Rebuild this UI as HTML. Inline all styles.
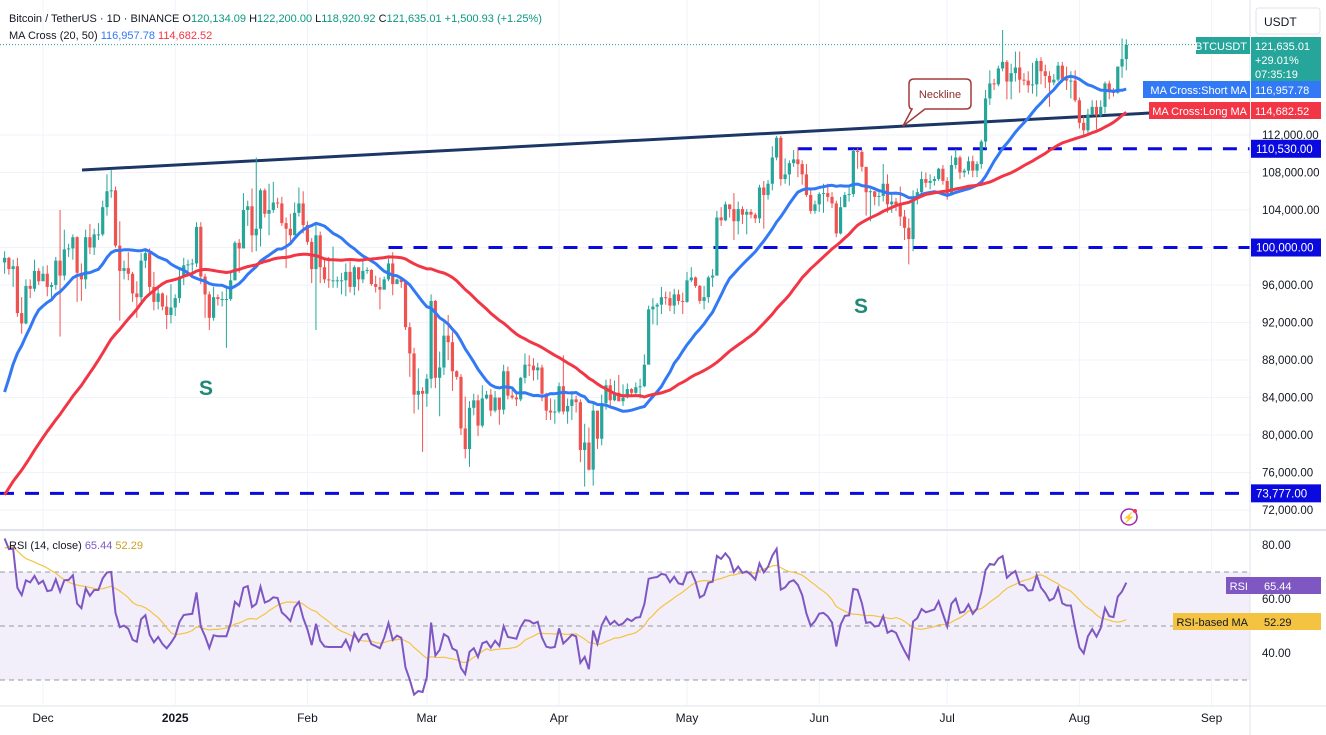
<!DOCTYPE html>
<html><head><meta charset="utf-8"><style>
html,body{margin:0;padding:0;background:#fff;width:1326px;height:735px;overflow:hidden}
svg{display:block;font-family:"Liberation Sans",sans-serif}
</style></head><body>
<svg id="chart" width="1326" height="735" viewBox="0 0 1326 735">
<g id="grid"></g>
<g id="rsiBg"></g>
<g id="levels"></g>
<g id="candles"></g>
<g id="mas"></g>
<g id="rsiG"></g>
<g id="anno"></g>
<g id="axes"></g>
</svg>
<script>
// ---- data (thousands USDT) ----
const histCloses=[60.8,62.1,62.1,62.8,62.2,62.1,60.6,60.3,62.4,63.2,62.9,66.0,67.0,67.6,67.4,68.4,68.4,69.0,67.4,67.4,66.7,68.2,66.6,67.0,68.0,69.9,72.7,72.3,70.2,69.5,69.3,68.7,67.8,69.4,75.6,75.9,76.5,76.7,80.4,88.7,88.0,90.5,87.4,91.1,90.6,89.9,90.5,92.3,94.3,98.4];
const closes=[98.9,97.7,98.0,93.0,91.9,95.9,95.6,97.5,96.4,
97.2,95.8,96.0,98.6,97.0,99.8,99.9,101.1,97.3,96.6,101.1,100.0,101.4,101.4,104.3,106.0,106.1,100.2,97.5,97.8,97.2,95.1,94.7,98.6,99.4,95.8,94.2,95.1,93.7,92.8,93.6,
94.6,96.9,98.1,98.2,98.3,102.2,96.9,95.0,92.5,94.7,94.5,94.5,94.5,96.5,100.5,99.9,104.0,104.4,101.3,102.0,106.1,103.6,104.0,104.8,104.7,102.6,102.0,101.3,103.7,104.7,102.4,
100.6,97.7,101.3,97.9,96.6,96.5,96.5,96.5,96.5,97.4,95.8,97.9,96.6,97.5,97.6,96.1,95.8,95.5,96.6,98.3,96.1,96.6,96.3,91.5,88.7,84.3,84.7,84.4,
86.0,94.3,86.1,87.2,90.6,89.9,86.8,86.2,80.7,78.5,82.9,83.7,81.0,83.9,84.3,82.6,84.0,82.7,86.8,84.2,84.0,83.8,86.1,87.5,87.4,86.9,87.2,84.4,82.6,82.4,82.5,
85.2,82.5,83.1,83.8,83.5,78.4,79.2,76.3,82.6,79.6,83.4,85.3,83.7,84.5,83.6,84.0,84.9,84.5,85.1,85.2,87.5,93.4,93.7,93.9,94.7,94.6,93.8,95.0,94.3,94.2,
96.5,96.8,95.9,94.3,94.7,96.8,97.0,103.2,102.9,104.6,104.1,102.8,104.1,103.5,103.8,103.5,103.1,106.4,105.6,106.8,109.6,111.7,107.3,107.8,109.0,109.4,108.9,107.8,105.6,103.9,104.6,
105.7,105.8,105.4,104.7,101.5,104.3,105.6,105.7,110.3,110.2,108.6,105.9,106.0,105.4,105.5,106.8,104.6,104.9,104.6,103.3,102.1,100.9,105.4,105.9,107.3,106.9,107.1,107.3,108.4,107.1,
105.7,108.8,109.6,108.0,108.2,109.2,108.2,108.9,111.3,115.9,117.5,117.4,119.1,119.8,117.7,118.6,119.2,117.9,117.8,117.3,117.4,119.9,118.8,118.3,117.6,117.9,119.4,118.0,117.8,117.8,115.7,
113.3,112.5,114.2,115.0,114.1,115.0,117.5,116.6,116.5,119.3,120.1,121.6];
const highs=[99.6,99.0,98.7,98.9,94.7,96.6,96.6,98.7,97.8,
98.0,98.1,96.3,99.0,104.0,101.9,100.4,101.4,101.2,98.3,101.9,102.5,102.0,102.6,105.0,107.8,108.3,106.5,102.8,98.6,99.5,97.4,96.4,99.4,99.9,99.9,97.4,95.7,95.2,94.9,96.1,
95.0,97.8,98.9,98.7,98.8,102.7,102.7,97.2,95.3,95.8,95.0,95.3,95.8,97.3,100.7,100.9,105.8,105.0,106.3,109.6,106.3,106.3,106.8,107.0,105.3,105.4,103.2,103.6,104.8,106.4,106.0,
102.8,101.0,102.5,101.7,98.8,99.0,100.1,96.9,97.3,98.3,98.5,98.1,97.3,98.8,97.9,97.7,97.0,96.8,96.9,98.8,99.5,96.7,96.6,96.5,92.0,89.3,87.1,85.1,
86.5,95.0,94.4,88.9,92.0,92.8,91.0,86.9,86.5,84.1,83.6,84.4,84.3,85.3,84.7,84.9,84.7,84.0,87.5,87.3,84.8,84.5,86.2,88.7,88.5,88.2,87.7,87.5,84.5,83.9,83.8,
85.6,88.5,83.9,84.7,84.2,83.8,81.2,80.8,83.5,82.6,84.3,85.9,86.0,85.8,86.4,85.4,85.5,85.0,85.6,86.0,88.6,93.8,94.6,94.1,95.8,95.3,95.3,95.6,95.5,95.2,
97.4,97.9,96.9,96.0,95.9,97.0,97.7,103.9,104.3,104.9,104.5,105.8,104.9,104.4,104.1,104.1,103.7,106.7,107.1,107.2,110.8,111.9,111.9,109.5,109.3,110.4,110.7,109.3,108.9,106.3,105.0,
105.9,106.8,106.8,105.9,105.0,105.4,105.9,106.4,110.5,110.6,110.4,108.6,106.2,106.0,106.2,108.9,107.8,105.6,105.3,106.5,104.0,103.1,106.1,106.3,108.1,108.0,107.8,107.6,108.5,108.8,
107.5,109.8,110.5,109.8,108.4,109.7,109.8,109.2,111.5,116.8,118.9,118.0,119.4,123.2,120.0,119.6,120.9,120.9,118.6,118.8,119.7,120.2,120.3,119.5,118.8,118.5,119.8,119.8,119.3,118.8,118.9,
116.0,114.0,114.8,115.7,115.7,115.7,117.7,117.8,117.0,119.3,122.3,122.2];
const lows=[97.2,97.1,95.8,92.6,90.8,91.8,94.6,95.3,96.0,
96.6,94.8,94.6,95.5,90.5,96.5,99.0,98.7,94.2,94.3,95.6,99.3,99.2,100.8,101.2,103.4,105.3,100.0,92.2,96.6,96.5,94.2,92.5,94.3,97.8,95.2,93.3,93.4,93.3,91.3,91.9,
92.7,94.1,96.0,97.2,97.2,97.9,96.1,92.5,91.2,92.2,93.8,93.7,89.3,94.3,96.5,97.3,99.9,102.3,99.5,99.6,100.1,103.2,101.3,103.7,104.2,102.3,97.8,100.3,101.3,103.3,101.5,
100.3,96.2,91.2,96.2,96.2,95.7,95.7,95.7,95.0,94.8,95.2,94.9,95.4,96.2,97.2,95.9,95.2,93.4,95.6,96.4,94.9,96.2,95.7,91.2,86.2,82.3,82.7,78.2,
83.0,85.0,85.0,82.0,86.4,88.0,84.7,85.9,80.0,77.5,76.6,82.1,79.9,80.8,83.8,82.0,82.4,81.1,82.2,83.8,83.8,83.1,83.6,85.5,86.3,85.8,85.9,83.6,81.6,81.6,81.2,
82.3,82.2,81.2,81.6,82.4,77.1,74.5,76.2,74.6,78.5,78.9,82.7,83.0,83.6,83.6,83.1,83.9,84.2,84.2,83.9,85.1,87.6,91.8,91.7,92.9,93.9,93.2,92.9,93.9,92.9,
94.1,96.3,95.7,94.0,93.4,94.1,95.8,97.0,102.3,102.8,103.2,100.8,101.4,102.5,101.4,103.1,102.6,102.6,102.0,105.1,106.1,109.3,106.6,106.8,106.6,108.6,107.5,106.7,105.4,103.6,103.6,
103.8,103.7,104.9,104.2,101.1,101.4,104.3,104.9,105.4,108.4,108.1,103.4,102.8,104.5,104.4,104.9,103.7,103.7,103.9,102.3,100.8,98.2,99.6,104.6,105.7,106.4,106.2,106.6,107.1,106.7,
105.1,105.6,108.4,107.3,107.5,107.8,107.5,107.5,108.4,110.6,115.2,116.8,117.2,118.8,115.8,115.8,117.7,116.5,117.3,116.5,116.4,116.1,117.4,117.0,115.0,117.3,117.7,117.6,116.8,115.9,115.5,
112.7,112.0,112.0,114.1,112.6,113.9,114.3,115.8,116.1,116.4,118.1,118.9];
const priceTicks=[112,108,104,96,92,88,84,80,76,72];
const rsiTicks=[80,60,40];
const monthLabels=["Dec","2025","Feb","Mar","Apr","May","Jun","Jul","Aug","Sep"];
const monthDayIdx=[9,40,71,99,130,160,191,221,252,283];
const levelValues=[110.53,100,73.777];
const levelLabels=["110,530.00","100,000.00","73,777.00"];
const levelStartIdx=[186,90,-2];

// ---- scales ----
const X=i=>43+(i-9)*4.265;
const Y=p=>135+(112-p)*9.375;
const RY=r=>545+(80-r)*2.7;
const NS="http://www.w3.org/2000/svg";
function el(parent,tag,attrs,text){const e=document.createElementNS(NS,tag);for(const k in attrs)e.setAttribute(k,attrs[k]);if(text!==undefined)e.textContent=text;document.getElementById(parent).appendChild(e);return e;}

// grid
priceTicks.concat([100]).forEach(p=>{const g=el('grid','line',{x1:0,x2:1250,y1:Y(p),y2:Y(p),stroke:'#f0f3fa','stroke-width':1});

});
monthDayIdx.forEach(d=>{const g=el('grid','line',{x1:X(d),x2:X(d),y1:0,y2:705,stroke:'#f0f3fa','stroke-width':1});

});

// levels
levelValues.forEach((v,k)=>{const l=el('levels','line',{x1:Math.max(0,X(levelStartIdx[k])),x2:1250,y1:Y(v),y2:Y(v),stroke:'#0a0adf','stroke-width':3,'stroke-dasharray':'14 11'});

});
// neckline
const nk=el('levels','line',{x1:82,y1:170,x2:1150,y2:113,stroke:'#1c3766','stroke-width':3});



// candles
for(let i=0;i<closes.length;i++){
  const o=i===0?histCloses[histCloses.length-1]:closes[i-1], c=closes[i];
  const col=c>=o?'#26a69a':'#ef5350', x=X(i);
  const w=el('candles','line',{x1:x,x2:x,y1:Y(highs[i]),y2:Y(lows[i]),stroke:col,'stroke-width':1});
  
  
  const yt=Y(Math.max(o,c)),yb=Y(Math.min(o,c));
  const b=el('candles','rect',{x:x-1.6,y:yt,width:3.2,height:Math.max(1,yb-yt),fill:col});
  
  
}

// MAs
const all=histCloses.concat(closes), off=histCloses.length;
function sma(n,i){let s=0;for(let k=i-n+1;k<=i;k++)s+=all[k];return s/n;}
[[20,'#3179f5','ma-short-line'],[50,'#f23645','ma-long-line']].forEach(([n,col,name])=>{
  let d='';for(let i=0;i<closes.length;i++){d+=(i?'L':'M')+X(i).toFixed(1)+' '+Y(sma(n,i+off)).toFixed(1);}
  const p=el('mas','path',{d,fill:'none',stroke:col,'stroke-width':3,'stroke-linejoin':'round'});
  
  
});

// RSI
const rsi=[];let ag=0,al=0;
for(let k=1;k<all.length;k++){const ch=all[k]-all[k-1],g=Math.max(ch,0),l=Math.max(-ch,0);
 if(k<=14){ag+=g/14;al+=l/14;}else{ag=(ag*13+g)/14;al=(al*13+l)/14;}
 rsi[k]=al===0?100:100-100/(1+ag/al);}
el('rsiBg','rect',{x:0,y:RY(70),width:1250,height:RY(30)-RY(70),fill:'#f3effa'});
[70,50,30].forEach(v=>{const l=el('rsiBg','line',{x1:0,x2:1250,y1:RY(v),y2:RY(v),stroke:'#9598a1','stroke-width':1,'stroke-dasharray':'5 4'});

});
let dr='',dm='';
for(let i=0;i<closes.length;i++){const k=i+off;dr+=(i?'L':'M')+X(i).toFixed(1)+' '+RY(rsi[k]).toFixed(1);
 let s=0;for(let j=k-13;j<=k;j++)s+=rsi[j];dm+=(i?'L':'M')+X(i).toFixed(1)+' '+RY(s/14).toFixed(1);}
const rm=el('rsiG','path',{d:dm,fill:'none',stroke:'#f5c342','stroke-width':1.2});


const rl=el('rsiG','path',{d:dr,fill:'none',stroke:'#7e57c2','stroke-width':2});



// price line
const pl=el('anno','line',{x1:0,x2:1250,y1:Y(121.635),y2:Y(121.635),stroke:'#26a69a','stroke-width':1,'stroke-dasharray':'1 2'});



// axes
el('axes','line',{x1:1250,x2:1250,y1:0,y2:735,stroke:'#e0e3eb'});
el('axes','line',{x1:0,x2:1326,y1:530,y2:530,stroke:'#e0e3eb','stroke-width':2});
el('axes','line',{x1:0,x2:1326,y1:706,y2:706,stroke:'#e0e3eb'});
priceTicks.forEach(p=>{const t=el('axes','text',{x:1262,y:Y(p)+4,'font-size':11.5,fill:'#131722'},(p*1000).toLocaleString('en-US')+'.00');

});
rsiTicks.forEach(r=>{const t=el('axes','text',{x:1262,y:RY(r)+4,'font-size':11.5,fill:'#131722'},r.toFixed(2));

});
monthLabels.forEach((m,k)=>{const t=el('axes','text',{x:X(monthDayIdx[k]),y:722,'font-size':12,fill:'#131722','text-anchor':'middle','font-weight':m==='2025'?'bold':'normal'},m);

});
levelValues.forEach((v,k)=>{const r=el('axes','rect',{x:1251,y:Y(v)-9,width:70,height:18,fill:'#0a0adf'});


el('axes','text',{x:1256,y:Y(v)+4,'font-size':11.5,fill:'#fff'},levelLabels[k]);});
</script>
<svg width="1326" height="735" style="position:absolute;left:0;top:0" font-family="Liberation Sans, sans-serif">
<g font-size="11">
<text x="9" y="22" fill="#131722">Bitcoin / TetherUS · 1D · BINANCE  O<tspan fill="#089981">120,134.09</tspan>  H<tspan fill="#089981">122,200.00</tspan>  L<tspan fill="#089981">118,920.92</tspan>  C<tspan fill="#089981">121,635.01  +1,500.93 (+1.25%)</tspan></text>
<text x="9" y="39" fill="#131722">MA Cross (20, 50)  <tspan fill="#3179f5">116,957.78</tspan>  <tspan fill="#f23645">114,682.52</tspan></text>
<text x="9" y="549" fill="#131722">RSI (14, close)  <tspan fill="#7e57c2">65.44</tspan>  <tspan fill="#c9a227">52.29</tspan></text>
</g>
<g><rect x="1256" y="8" width="64" height="26" rx="3" fill="#fff" stroke="#e0e3eb"/><text x="1264" y="26" font-size="12" fill="#131722">USDT</text></g>
<g font-size="11" fill="#fff">
<rect x="1196" y="37" width="54" height="17" fill="#26a69a"/><text x="1247" y="50" text-anchor="end">BTCUSDT</text>
<rect x="1251" y="37" width="70" height="44" fill="#26a69a"/><text x="1255" y="50">121,635.01</text><text x="1255" y="64">+29.01%</text><text x="1255" y="78">07:35:19</text></g>
<g font-size="11" fill="#fff">
<rect x="1143" y="81" width="107" height="17" fill="#3179f5"/><text x="1247" y="94" text-anchor="end">MA Cross:Short MA</text>
<rect x="1251" y="81" width="70" height="17" fill="#3179f5"/><text x="1255" y="94">116,957.78</text></g>
<g font-size="11" fill="#fff">
<rect x="1149" y="102" width="101" height="17" fill="#f23645"/><text x="1247" y="115" text-anchor="end">MA Cross:Long MA</text>
<rect x="1251" y="102" width="70" height="17" fill="#f23645"/><text x="1255" y="115">114,682.52</text></g>
<g font-size="11">
<rect x="1226" y="577" width="25" height="17" fill="#7e57c2"/><text x="1248" y="590" fill="#fff" text-anchor="end">RSI</text>
<rect x="1251" y="577" width="70" height="17" fill="#7e57c2"/><text x="1264" y="590" fill="#fff">65.44</text>
<rect x="1173" y="613" width="78" height="17" fill="#f5c342"/><text x="1248" y="626" fill="#131722" text-anchor="end">RSI-based MA</text>
<rect x="1251" y="613" width="70" height="17" fill="#f5c342"/><text x="1264" y="626" fill="#131722">52.29</text></g>
<g>
<path d="M914 79 H966 Q971 79 971 84 V104 Q971 109 966 109 H925 L903 126 L912 109 Q909 109 909 104 V84 Q909 79 914 79 Z" fill="#fff" stroke="#a33a3a" stroke-width="1.5"/>
<text x="940" y="98" font-size="11" fill="#8b2c2c" text-anchor="middle">Neckline</text></g>
<text x="206" y="395" font-size="21" font-weight="bold" fill="#1f8a78" text-anchor="middle">S</text>
<text x="861" y="313" font-size="21" font-weight="bold" fill="#1f8a78" text-anchor="middle">S</text>
<g><circle cx="1129" cy="517" r="8" fill="#fff" stroke="#9c27b0" stroke-width="1.5"/><text x="1129" y="521" font-size="10" fill="#9c27b0" text-anchor="middle">⚡</text><circle cx="1135" cy="511" r="2" fill="#f23645"/></g>
</svg>
</body></html>
